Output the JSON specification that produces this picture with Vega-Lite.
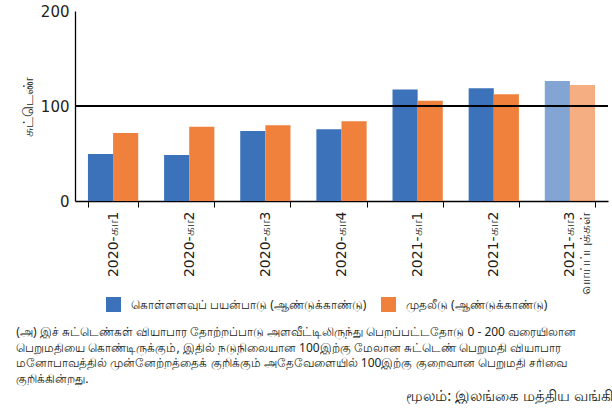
{
  "$schema": "https://vega.github.io/schema/vega-lite/v6.json",
  "padding": {"left": 16, "top": 4, "right": 0, "bottom": 0},
  "background": "white",
  "config": {
    "view": {"stroke": null},
    "font": "Noto Sans",
    "concat": {"spacing": 0}
  },
  "title": {
    "text": "மூலம்: இலங்கை மத்திய வங்கி",
    "orient": "bottom",
    "anchor": "start",
    "frame": "bounds",
    "dx": 390,
    "fontSize": 15,
    "fontWeight": "normal",
    "offset": 4,
    "color": "#231f20"
  },
  "vconcat": [
    {
      "title": {
        "text": [
          "(அ) இச் சுட்டெண்கள் வியாபார தோற்றப்பாடு அளவீட்டிலிருந்து பெறப்பட்டதோடு 0 - 200 வரையிலான",
          "\u00a0\u00a0\u00a0\u00a0\u00a0\u00a0\u00a0\u00a0\u00a0பெறுமதியை கொண்டிருக்கும், இதில் நடுநிலையான 100இற்கு மேலான சுட்டெண் பெறுமதி வியாபார",
          "\u00a0\u00a0\u00a0\u00a0\u00a0\u00a0\u00a0\u00a0\u00a0மனோபாவத்தில் முன்னேற்றத்தைக் குறிக்கும் அதேவேளையில் 100இற்கு குறைவான பெறுமதி சரிவை",
          "\u00a0\u00a0\u00a0\u00a0\u00a0\u00a0\u00a0\u00a0\u00a0குறிக்கின்றது."
        ],
        "orient": "bottom",
        "anchor": "start",
        "frame": "bounds",
        "dx": -5,
        "fontSize": 12,
        "fontWeight": "normal",
        "lineHeight": 15.5,
        "offset": 33,
        "color": "#231f20"
      },
      "vconcat": [
        {
          "width": 533,
          "height": 190,
          "data": {
            "values": [
              {"quarter": "2020-கா1", "series": "கொள்ளளவுப் பயன்பாடு (ஆண்டுக்காண்டு)", "value": 49.5},
              {"quarter": "2020-கா1", "series": "முதலீடு (ஆண்டுக்காண்டு)", "value": 71.6},
              {"quarter": "2020-கா2", "series": "கொள்ளளவுப் பயன்பாடு (ஆண்டுக்காண்டு)", "value": 48.4},
              {"quarter": "2020-கா2", "series": "முதலீடு (ஆண்டுக்காண்டு)", "value": 78.2},
              {"quarter": "2020-கா3", "series": "கொள்ளளவுப் பயன்பாடு (ஆண்டுக்காண்டு)", "value": 73.7},
              {"quarter": "2020-கா3", "series": "முதலீடு (ஆண்டுக்காண்டு)", "value": 79.7},
              {"quarter": "2020-கா4", "series": "கொள்ளளவுப் பயன்பாடு (ஆண்டுக்காண்டு)", "value": 75.4},
              {"quarter": "2020-கா4", "series": "முதலீடு (ஆண்டுக்காண்டு)", "value": 83.9},
              {"quarter": "2021-கா1", "series": "கொள்ளளவுப் பயன்பாடு (ஆண்டுக்காண்டு)", "value": 117.5},
              {"quarter": "2021-கா1", "series": "முதலீடு (ஆண்டுக்காண்டு)", "value": 105.6},
              {"quarter": "2021-கா2", "series": "கொள்ளளவுப் பயன்பாடு (ஆண்டுக்காண்டு)", "value": 118.6},
              {"quarter": "2021-கா2", "series": "முதலீடு (ஆண்டுக்காண்டு)", "value": 112.3},
              {"quarter": "2021-கா3", "series": "கொள்ளளவுப் பயன்பாடு (ஆண்டுக்காண்டு)", "value": 126.3},
              {"quarter": "2021-கா3", "series": "முதலீடு (ஆண்டுக்காண்டு)", "value": 122.1}
            ]
          },
          "layer": [
            {
              "mark": {"type": "bar"},
              "encoding": {
                "x": {
                  "field": "quarter",
                  "type": "nominal",
                  "sort": null,
                  "scale": {"paddingInner": 0.34, "paddingOuter": 0.17},
                  "axis": {
                    "title": null,
                    "labelAngle": -90,
                    "labelFont": "DejaVu Sans",
                    "labelFontSize": 14,
                    "labelColor": "#231f20",
                    "labelPadding": 4,
                    "tickBand": "extent",
                    "tickColor": "black",
                    "tickSize": 6,
                    "domainColor": "black",
                    "domainWidth": 1.3,
                    "labelExpr": "datum.value === '2021-கா3' ? ['2021-கா3', 'வாய்ப்புக்கள்'] : datum.value"
                  }
                },
                "xOffset": {
                  "field": "series",
                  "sort": ["கொள்ளளவுப் பயன்பாடு (ஆண்டுக்காண்டு)", "முதலீடு (ஆண்டுக்காண்டு)"]
                },
                "y": {
                  "field": "value",
                  "type": "quantitative",
                  "scale": {"domain": [0, 200]},
                  "axis": {
                    "title": "சுட்டெண்",
                    "titleFontSize": 14,
                    "titleFontWeight": "normal",
                    "titleColor": "#231f20",
                    "titlePadding": 5,
                    "values": [0, 100, 200],
                    "grid": false,
                    "ticks": false,
                    "labelPadding": 6,
                    "labelFont": "DejaVu Sans",
                    "labelFontSize": 15,
                    "labelColor": "#231f20",
                    "domainColor": "black",
                    "domainWidth": 1.3
                  }
                },
                "color": {
                  "field": "series",
                  "type": "nominal",
                  "scale": {
                    "domain": ["கொள்ளளவுப் பயன்பாடு (ஆண்டுக்காண்டு)", "முதலீடு (ஆண்டுக்காண்டு)"],
                    "range": ["#3C72BA", "#F0813C"]
                  },
                  "legend": {
                    "title": null,
                    "orient": "none",
                    "legendX": 31,
                    "legendY": 286,
                    "direction": "horizontal",
                    "symbolType": "square",
                    "symbolSize": 225,
                    "symbolStrokeWidth": 0,
                    "symbolOpacity": 1,
                    "labelFontSize": 12,
                    "labelLimit": 400,
                    "labelColor": "#231f20",
                    "labelOffset": 10,
                    "columnPadding": 14
                  }
                },
                "opacity": {
                  "condition": {"test": "datum.quarter === '2021-கா3'", "value": 0.64},
                  "value": 1
                }
              }
            },
            {
              "mark": {"type": "rule", "color": "black", "strokeWidth": 1.3},
              "encoding": {"y": {"datum": 100}}
            }
          ]
        }
      ]
    }
  ]
}
